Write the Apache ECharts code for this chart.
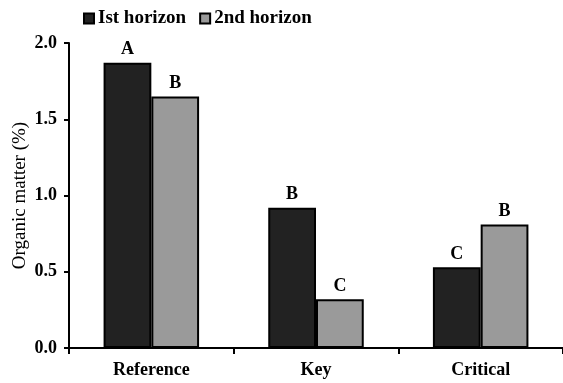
<!DOCTYPE html>
<html>
<head>
<meta charset="utf-8">
<script src="https://cdn.jsdelivr.net/npm/echarts@6/dist/echarts.min.js"></script>
<style>
  html, body { margin: 0; padding: 0; background: #fff; }
  #chart { width: 563px; height: 383px; }
</style>
</head>
<body>
<div id="chart"></div>
<script>
// Organic matter by site type and soil horizon
const categories = ['Reference', 'Key', 'Critical'];
const seriesNames = ['Ist horizon', '2nd horizon'];
const firstHorizon = [1.87, 0.92, 0.53];
const secondHorizon = [1.65, 0.32, 0.81];
const firstLetters = ['A', 'B', 'C'];
const secondLetters = ['B', 'C', 'B'];
const yTicks = [0, 0.5, 1.0, 1.5, 2.0];

const serif = '"Liberation Serif", "DejaVu Serif", serif';

function letterLabel(letters) {
  return {
    show: true,
    position: 'top',
    distance: 4,
    fontFamily: serif,
    fontWeight: 'bold',
    fontSize: 18,
    color: '#000',
    formatter: p => letters[p.dataIndex]
  };
}

const chart = echarts.init(document.getElementById('chart'));
chart.setOption({
  animation: false,
  backgroundColor: '#fff',
  legend: {
    left: 78,
    top: 4,
    itemWidth: 10,
    itemHeight: 10,
    itemGap: 13,
    icon: 'rect',
    textStyle: { fontFamily: serif, fontWeight: 'bold', fontSize: 19, color: '#000', padding: [0, 0, 0, -1] },
    data: seriesNames
  },
  grid: { left: 69, right: 0, top: 43, bottom: 35, containLabel: false, outerBoundsMode: 'none' },
  xAxis: {
    type: 'category',
    data: categories,
    axisLine: { lineStyle: { color: '#000', width: 2 } },
    axisTick: { show: true, length: 6, lineStyle: { color: '#000', width: 2 } },
    axisLabel: { fontFamily: serif, fontWeight: 'bold', fontSize: 18, color: '#000', margin: 13 }
  },
  yAxis: {
    type: 'value',
    min: yTicks[0],
    max: yTicks[yTicks.length - 1],
    interval: 0.5,
    name: 'Organic matter (%)',
    nameLocation: 'middle',
    nameGap: 39,
    nameMoveOverlap: false,
    nameTextStyle: { fontFamily: serif, fontSize: 19, color: '#000' },
    splitLine: { show: false },
    axisLine: { show: true, lineStyle: { color: '#000', width: 2 } },
    axisTick: { show: true, length: 5, lineStyle: { color: '#000', width: 2 } },
    axisLabel: {
      fontFamily: serif, fontWeight: 'bold', fontSize: 18, color: '#000', margin: 12,
      formatter: v => v.toFixed(1)
    }
  },
  series: [
    {
      name: seriesNames[0],
      type: 'bar',
      data: firstHorizon,
      barGap: '0%',
      barCategoryGap: '42%',
      itemStyle: { color: '#222222', borderColor: '#000', borderWidth: 2 },
      label: letterLabel(firstLetters)
    },
    {
      name: seriesNames[1],
      type: 'bar',
      data: secondHorizon,
      barGap: '0%',
      barCategoryGap: '42%',
      itemStyle: { color: '#9a9a9a', borderColor: '#000', borderWidth: 2 },
      label: letterLabel(secondLetters)
    }
  ]
});
</script>
</body>
</html>
